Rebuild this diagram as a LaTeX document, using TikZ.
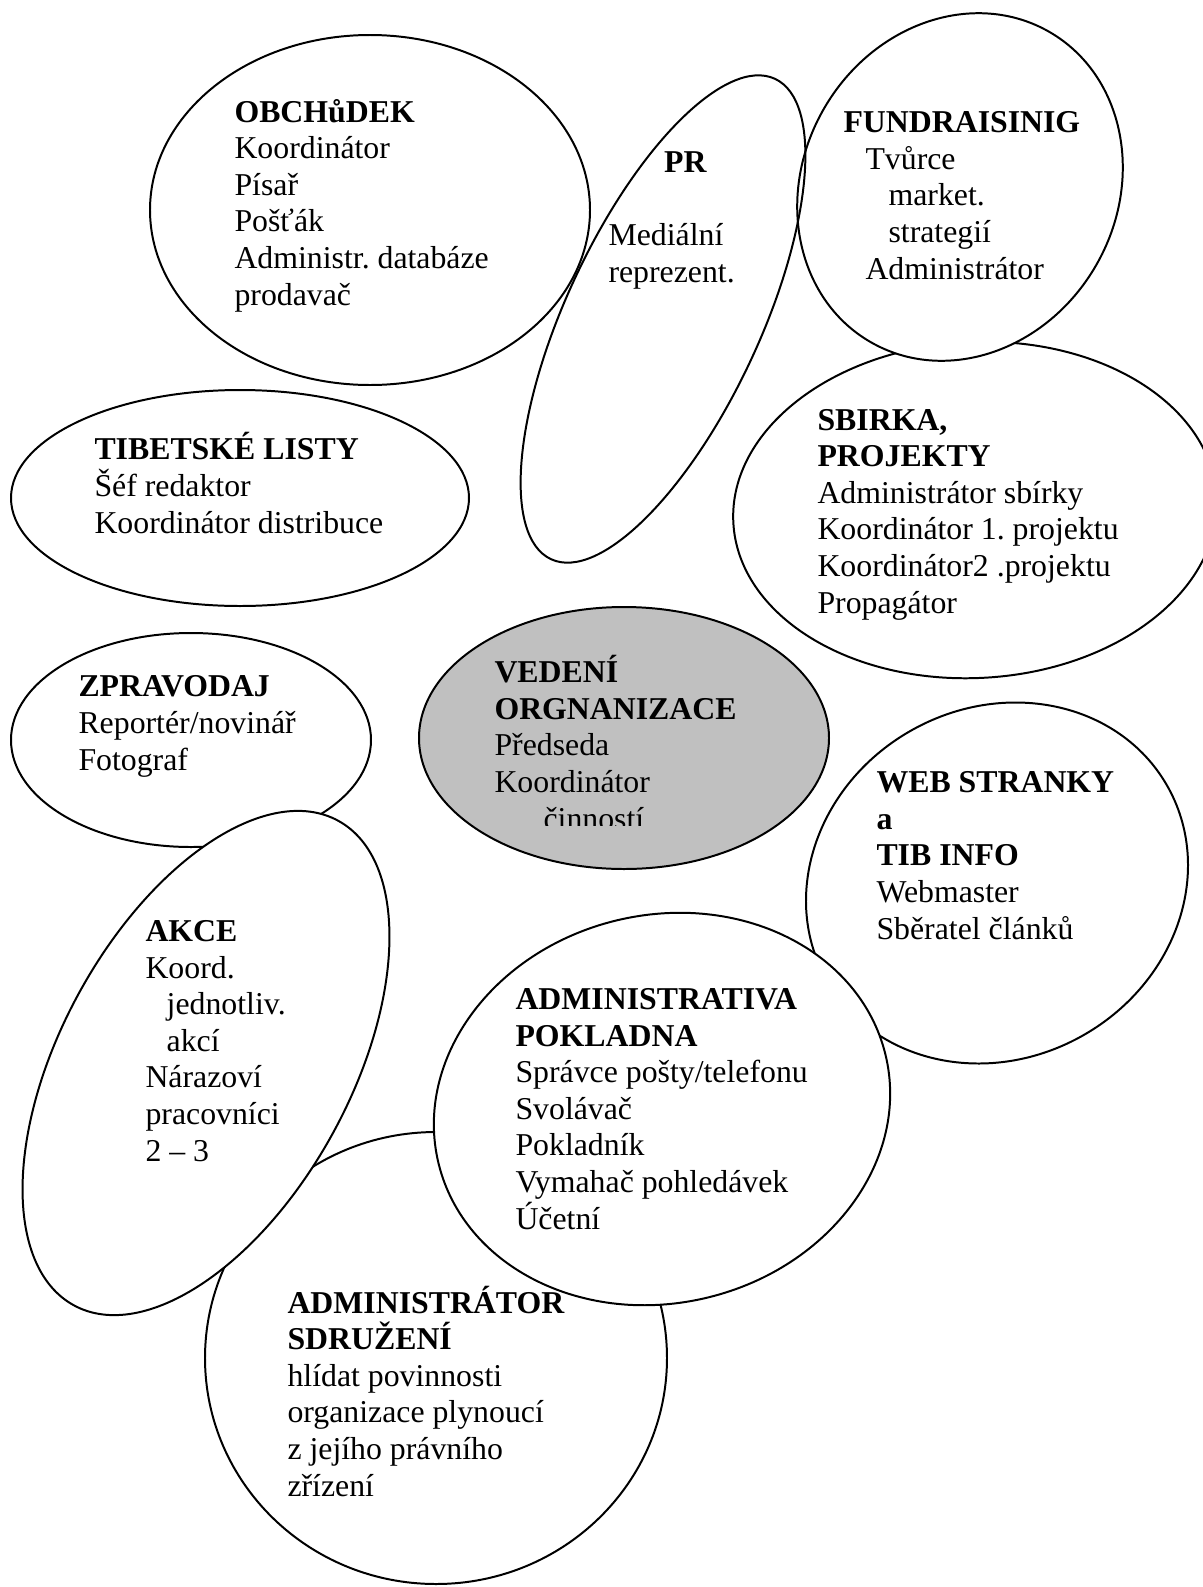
\documentclass[tikz,border=0pt]{standalone}
\usepackage{fontspec}
\setmainfont{Liberation Serif}
\frenchspacing
\definecolor{coregray}{RGB}{192,192,192}

\begin{document}
\begin{tikzpicture}[
    x=0.3774pt, y=-0.3774pt,
    bubble/.style={draw=black, line width=0.75pt},
    cover/.style={bubble, fill=white},
    core/.style={bubble, fill=coregray},
    roles/.style={anchor=base west, inner sep=0pt, align=left,
                  font=\fontsize{12}{13.8}\selectfont}
  ]
  \useasboundingbox (0,0) rectangle (1203,1587);

  % Upper row of bubbles
  \draw[bubble, rotate around={3:(975,510)}] (975,510) ellipse [x radius=242, y radius=168];
  \draw[cover, rotate around={60:(960,187)}] (960,187) ellipse [x radius=179, y radius=157];
  \draw[bubble] (370,210) ellipse [x radius=220, y radius=175];
  \draw[bubble, rotate around={65:(663,319)}] (663,319) ellipse [x radius=265, y radius=97];
  \draw[bubble] (240,498) ellipse [x radius=229, y radius=108];

  % Middle row, management in grey
  \draw[bubble] (191,740) ellipse [x radius=180, y radius=107];
  \draw[core] (624,738) ellipse [x radius=205, y radius=131];
  \draw[bubble, rotate around={30:(997,883)}] (997,883) ellipse [x radius=196, y radius=175];

  % Lower row
  \draw[bubble] (436,1358) ellipse [x radius=231, y radius=226];
  \draw[cover, rotate around={61.4:(206,1063)}] (206,1063) ellipse [x radius=276, y radius=145];
  \draw[cover, rotate around={13.7:(662,1109)}] (662,1109) ellipse [x radius=230, y radius=194];

  % Texts (anchored at the baseline of their last line)
  \node[roles] (obchod) at (234,305) {\textbf{OBCHůDEK}\\Koordinátor\\Písař\\Pošťák\\Administr. databáze\\prodavač};
  \node[roles] (pr) at (608,282) {\hspace*{21pt}\textbf{PR}\\[13.8pt]Mediální\\reprezent.};
  \node[roles] (fund) at (843,279) {\textbf{FUNDRAISINIG}\\\hspace*{8.3pt}Tvůrce\\\hspace*{17pt}market.\\\hspace*{17pt}strategií\\\hspace*{8.3pt}Administrátor};
  \node[roles] (tibet) at (94,533) {\textbf{TIBETSKÉ LISTY}\\Šéf redaktor\\Koordinátor distribuce};
  \node[roles] (sbirka) at (817,613) {\textbf{SBIRKA,}\\\textbf{PROJEKTY}\\Administrátor sbírky\\Koordinátor 1. projektu\\Koordinátor2 .projektu\\Propagátor};
  \node[roles] (zprav) at (78,770) {\textbf{ZPRAVODAJ}\\Reportér/novinář\\Fotograf};
  \begin{scope}
    \clip (480,640) rectangle (780,825);
    \node[roles] (vedeni) at (494,829) {\textbf{VEDENÍ}\\\textbf{ORGNANIZACE}\\Předseda\\Koordinátor\\\hspace*{18.5pt}činností};
  \end{scope}
  \node[roles] (web) at (876,939) {\textbf{WEB STRANKY}\\\textbf{a}\\\textbf{TIB INFO}\\Webmaster\\Sběratel článků};
  \node[roles] (akce) at (145,1161) {\textbf{AKCE}\\Koord.\\\hspace*{8pt}jednotliv.\\\hspace*{8pt}akcí\\Nárazoví\\pracovníci\\2 – 3};
  \node[roles] (admin) at (515,1229) {\textbf{ADMINISTRATIVA}\\\textbf{POKLADNA}\\Správce pošty/telefonu\\Svolávač\\Pokladník\\Vymahač pohledávek\\Účetní};
  \node[roles] (sdruz) at (287,1496) {\textbf{ADMINISTRÁTOR}\\\textbf{SDRUŽENÍ}\\hlídat povinnosti\\organizace plynoucí\\z jejího právního\\zřízení};
\end{tikzpicture}
\end{document}
